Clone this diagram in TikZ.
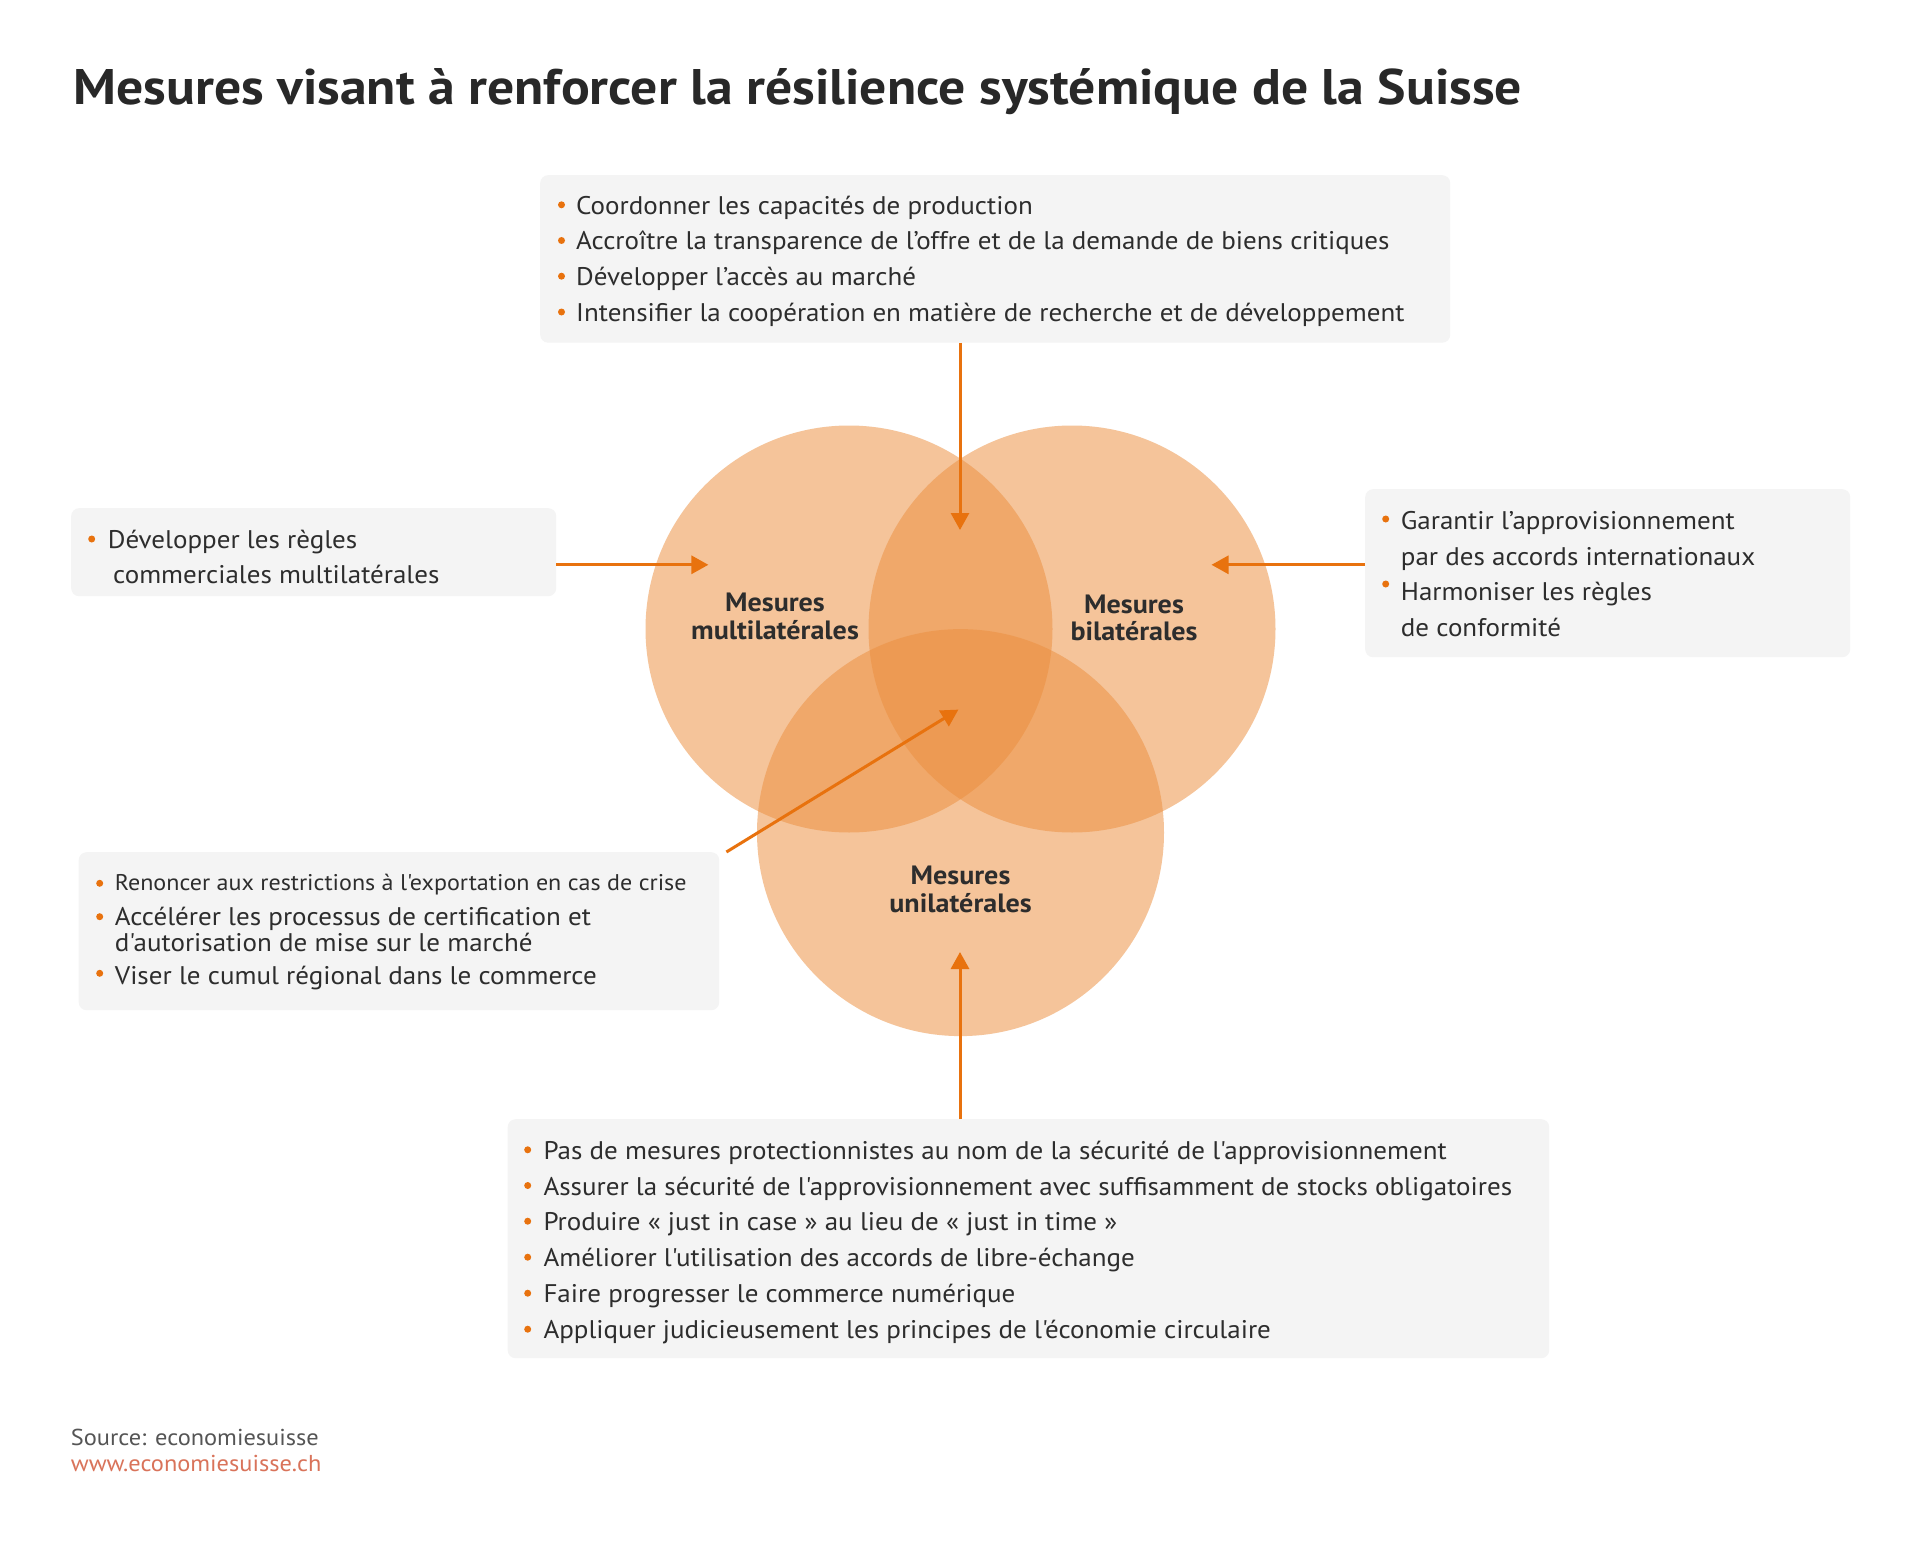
\documentclass[tikz,border=0pt]{standalone}
\usepackage{fontspec}
\setmainfont{PT Sans}[FakeStretch=1.06, Ligatures=TeXOff]
\newfontfamily\ttlfont{PT Sans}[FakeStretch=1.073]
\usetikzlibrary{arrows.meta}
\definecolor{orng}{RGB}{232,114,14}
\definecolor{vfill}{RGB}{236,143,63}
\definecolor{boxgray}{RGB}{244,244,244}
\definecolor{txt}{RGB}{45,45,45}
\definecolor{ttlc}{RGB}{40,40,40}
\definecolor{srcgray}{RGB}{85,85,85}
\definecolor{urlc}{RGB}{217,115,90}
\tikzset{
 panel/.style={fill=boxgray, rounded corners=8pt, inner sep=0pt, anchor=north west, draw=none},
 venn/.style={circle, fill=vfill, fill opacity=0.52, draw=none, inner sep=0pt, minimum size=407pt},
 itm/.style={anchor=base west, inner sep=0pt, text=txt, font=\fontsize{25.5}{30}\selectfont},
 dot/.style={circle, fill=orng, inner sep=0pt, minimum size=7pt},
 lbl/.style={anchor=base, inner sep=0pt, text=txt, font=\fontsize{26.5}{30}\selectfont\bfseries},
 conn/.style={draw=orng, line width=3pt, -{Triangle[length=17pt,width=18pt]}},
}
\begin{document}
\begin{tikzpicture}[x=1pt,y=-1pt]
\useasboundingbox (0,0) rectangle (1920,1541);
\fill[white] (0,0) rectangle (1920,1541);

% title
\node[anchor=base west, inner sep=0pt, text=ttlc, font=\ttlfont\fontsize{50}{55}\selectfont\bfseries] (title) at (73.5,104.5) {Mesures visant à renforcer la résilience systémique de la Suisse};

% circles
\node[venn] (cM) at (849,629) {};
\node[venn] (cB) at (1072,629) {};
\node[venn] (cU) at (960.5,832.6) {};

\node[lbl] (lM1) at (775,611) {Mesures};
\node[lbl] (lM2) at (775,639) {multilatérales};
\node[lbl] (lB1) at (1134,613) {Mesures};
\node[lbl] (lB2) at (1134,640) {bilatérales};
\node[lbl] (lU1) at (960.5,884) {Mesures};
\node[lbl] (lU2) at (960.5,912) {unilatérales};

% panels
\node[panel, minimum width=910pt, minimum height=167.5pt] (topbox) at (540,175) {};
\node[panel, minimum width=485pt, minimum height=88pt] (leftbox) at (71,508) {};
\node[panel, minimum width=485pt, minimum height=168pt] (rightbox) at (1365,489) {};
\node[panel, minimum width=640.5pt, minimum height=158pt] (diagbox) at (78.5,852) {};
\node[panel, minimum width=1041.5pt, minimum height=239pt] (bottombox) at (507.5,1119) {};

% top box text
\node[dot] (tb1) at (561.5,204.8) {};
\node[itm] (tt1) at (576,214.3) {Coordonner les capacités de production};
\node[dot] (tb2) at (561.5,240.5) {};
\node[itm] (tt2) at (576,250) {Accroître la transparence de l’offre et de la demande de biens critiques};
\node[dot] (tb3) at (561.5,276.2) {};
\node[itm] (tt3) at (576,285.7) {Développer l’accès au marché};
\node[dot] (tb4) at (561.5,312) {};
\node[itm] (tt4) at (576,321.5) {Intensifier la coopération en matière de recherche et de développement};

% left box text
\node[dot] (lb1) at (91.7,539) {};
\node[itm] (lt1) at (107.7,548) {Développer les règles};
\node[itm] (lt2) at (113,583) {commerciales multilatérales};

% right box text
\node[dot] (rb1) at (1385.7,519) {};
\node[itm] (rt1) at (1400.7,529) {Garantir l’approvisionnement};
\node[itm] (rt2) at (1400.7,565) {par des accords internationaux};
\node[dot] (rb2) at (1385.7,584) {};
\node[itm] (rt3) at (1400.7,600.5) {Harmoniser les règles};
\node[itm] (rt4) at (1400.7,636) {de conformité};

% diagonal box text
\node[dot] (db1) at (99.7,883.3) {};
\node[itm, font=\fontsize{22.7}{26}\selectfont] (dt1) at (114.7,890) {Renoncer aux restrictions à l'exportation en cas de crise};
\node[dot] (db2) at (99.7,916.7) {};
\node[itm] (dt2) at (114.7,925) {Accélérer les processus de certification et};
\node[itm] (dt3) at (114.7,951.7) {d'autorisation de mise sur le marché};
\node[dot] (db3) at (99.7,973.3) {};
\node[itm] (dt4) at (114.7,984) {Viser le cumul régional dans le commerce};

% bottom box text
\node[dot] (bb1) at (527.7,1149.8) {};
\node[itm] (bt1) at (543.3,1159.3) {Pas de mesures protectionnistes au nom de la sécurité de l'approvisionnement};
\node[dot] (bb2) at (527.7,1185.5) {};
\node[itm] (bt2) at (543.3,1195) {Assurer la sécurité de l'approvisionnement avec suffisamment de stocks obligatoires};
\node[dot] (bb3) at (527.7,1221.2) {};
\node[itm] (bt3) at (543.3,1230.7) {Produire « just in case » au lieu de « just in time »};
\node[dot] (bb4) at (527.7,1257.2) {};
\node[itm] (bt4) at (543.3,1266.7) {Améliorer l'utilisation des accords de libre-échange};
\node[dot] (bb5) at (527.7,1293.2) {};
\node[itm] (bt5) at (543.3,1302.7) {Faire progresser le commerce numérique};
\node[dot] (bb6) at (527.7,1329.2) {};
\node[itm] (bt6) at (543.3,1338.7) {Appliquer judicieusement les principes de l'économie circulaire};

% connectors
\coordinate (tipT) at (960,530);
\coordinate (tipL) at (708.4,564.8);
\coordinate (tipR) at (1211.5,564.8);
\coordinate (tipD) at (958.4,709.6);
\coordinate (tipB) at (960,952);
\draw[conn] (topbox.south -| tipT) -- (tipT);
\draw[conn] (leftbox.east |- tipL) -- (tipL);
\draw[conn] (rightbox.west |- tipR) -- (tipR);
\draw[conn] ([xshift=7pt]diagbox.north east) -- (tipD);
\draw[conn] (bottombox.north -| tipB) -- (tipB);

% source
\node[anchor=base west, inner sep=0pt, text=srcgray, font=\fontsize{23}{26}\selectfont] (src) at (70.7,1445) {Source: economiesuisse};
\node[anchor=base west, inner sep=0pt, text=urlc, font=\fontsize{23}{26}\selectfont] (url) at (70.7,1471.7) {www.economiesuisse.ch};
\end{tikzpicture}
\end{document}
